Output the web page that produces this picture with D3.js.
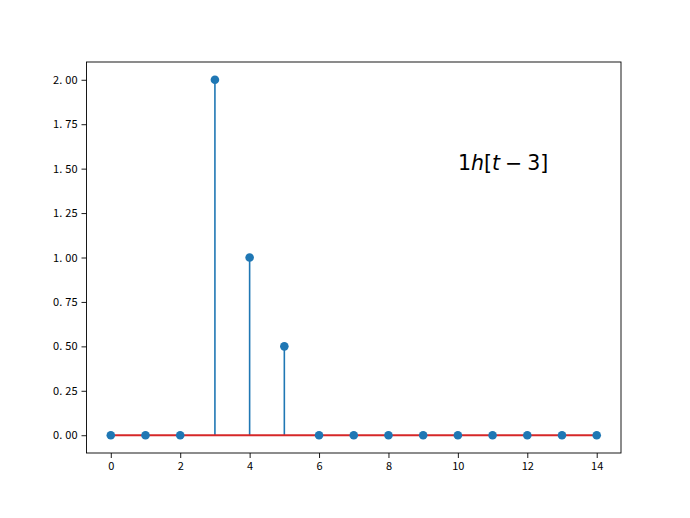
<!DOCTYPE html>
<html><head><meta charset="utf-8">
<script src="https://cdn.jsdelivr.net/npm/d3@7"></script>
<style>body{margin:0;background:#fff}svg{display:block}</style>
</head><body>
<script>
const xs = [0,1,2,3,4,5,6,7,8,9,10,11,12,13,14];
const ys = [0,0,0,2,1,0.5,0,0,0,0,0,0,0,0,0];
const xTicks = [0,2,4,6,8,10,12,14];
const yTicks = [0,0.25,0.5,0.75,1,1.25,1.5,1.75,2];

const W=690,H=518;
const L=86.5,R=621,T=62,B=453;
const svg=d3.select("body").append("svg").attr("width",W).attr("height",H);
const x=d3.scaleLinear().domain([-0.7,14.7]).range([L,R]);
const y=d3.scaleLinear().domain([-0.1,2.1]).range([B,T]);
const font="'Noto Sans CJK SC', 'DejaVu Sans', sans-serif";

const xa=svg.append("g").attr("transform",`translate(0,${B})`)
  .call(d3.axisBottom(x).tickValues(xTicks).tickFormat(d3.format("d")).tickSize(5).tickPadding(4));
const ya=svg.append("g").attr("transform",`translate(${L},0)`)
  .call(d3.axisLeft(y).tickValues(yTicks).tickFormat(d3.format(".2f")).tickSize(5).tickPadding(4));
[xa,ya].forEach(a=>{a.select(".domain").remove();a.selectAll("text").attr("font-family",font).attr("font-size",11).attr("fill","#000");a.selectAll("line").attr("stroke","#000").attr("stroke-width",0.9);});
ya.selectAll(".tick text").each(function(){
  const s=d3.select(this).text(); const p=s.split(".");
  const el=d3.select(this).text(null);
  el.append("tspan").text(p[0]+".");
  el.append("tspan").attr("dx",3).text(p[1]);
});

svg.append("rect").attr("x",L).attr("y",T).attr("width",R-L).attr("height",B-T)
  .attr("fill","none").attr("stroke","#000").attr("stroke-width",0.9);

const data=xs.map((d,i)=>({x:d,y:ys[i]}));
svg.append("g").selectAll("line").data(data).join("line")
  .attr("x1",d=>x(d.x)).attr("x2",d=>x(d.x)).attr("y1",y(0)).attr("y2",d=>y(d.y))
  .attr("stroke","#1f77b4").attr("stroke-width",1.6);
svg.append("line").attr("x1",x(xs[0])).attr("x2",x(xs[xs.length-1])).attr("y1",y(0)).attr("y2",y(0))
  .attr("stroke","#d62728").attr("stroke-width",2);
svg.append("g").selectAll("circle").data(data).join("circle")
  .attr("cx",d=>x(d.x)).attr("cy",d=>y(d.y)).attr("r",4.3).attr("fill","#1f77b4");

const t=svg.append("text").attr("x",458).attr("y",170).attr("font-family","'DejaVu Sans', sans-serif").attr("font-size",20.5).attr("fill","#000");
t.append("tspan").text("1");
t.append("tspan").attr("font-style","italic").text("h");
t.append("tspan").text("[");
t.append("tspan").attr("font-style","italic").text("t");
t.append("tspan").attr("dx",5).text("−");
t.append("tspan").attr("dx",5).text("3]");
</script>
</body></html>
